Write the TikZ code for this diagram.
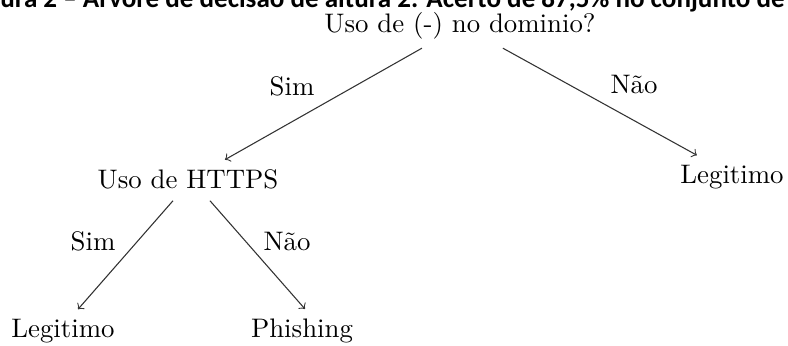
\documentclass[tikz,border=0pt]{standalone}
\usepackage{fontspec}
\newfontfamily\capfont{Carlito}
\usetikzlibrary{positioning}
\tikzset{
  dec/.style={anchor=base, inner sep=3.33pt},
  leaf/.style={dec},
  lbl/.style={anchor=base, inner sep=0pt},
  arr/.style={->, black!80},
  capt/.style={anchor=base west, inner sep=0pt,
               font=\capfont\bfseries\fontsize{10.1}{12}\selectfont},
}

\begin{document}
\begin{tikzpicture}[x=0.3731pt, y=-0.3731pt]

  \useasboundingbox (0,0) rectangle (788,345);

  % caption of the figure, cut at the top
  \begin{scope}
    \clip (0,0) rectangle (788,345);
    \node[capt] (cap) at (-32,7)
      {Figura 2 – Árvore de decisão de altura 2. Acerto de 87,5\% no conjunto de teste};
  \end{scope}

  \node[dec] (root) at (460,32) {Uso de (-) no dominio?};
  \node[dec] (https) at (188,188) {Uso de HTTPS};
  \node[leaf] (legR) at (732,183) {Legitimo};
  \node[leaf] (legL) at (63,337) {Legitimo};
  \node[leaf] (phish) at (302,337) {Phishing};

  \draw[arr] ([xshift=-14.2pt]root.south) -- ([xshift=13.8pt]https.north);
  \draw[arr] ([xshift=16pt]root.south) -- ([xshift=-13.1pt]legR.north);
  \draw[arr] ([xshift=-5.6pt,yshift=-1pt]https.south) -- ([xshift=5.6pt]legL.north);
  \draw[arr] ([xshift=8.2pt,yshift=-1pt]https.south) -- ([xshift=1.1pt]phish.north);

  \node[lbl] (sim1) at (292,95) {Sim};
  \node[lbl] (nao1) at (634,93) {Não};
  \node[lbl] (sim2) at (93,250) {Sim};
  \node[lbl] (nao2) at (287,250) {Não};

\end{tikzpicture}
\end{document}
